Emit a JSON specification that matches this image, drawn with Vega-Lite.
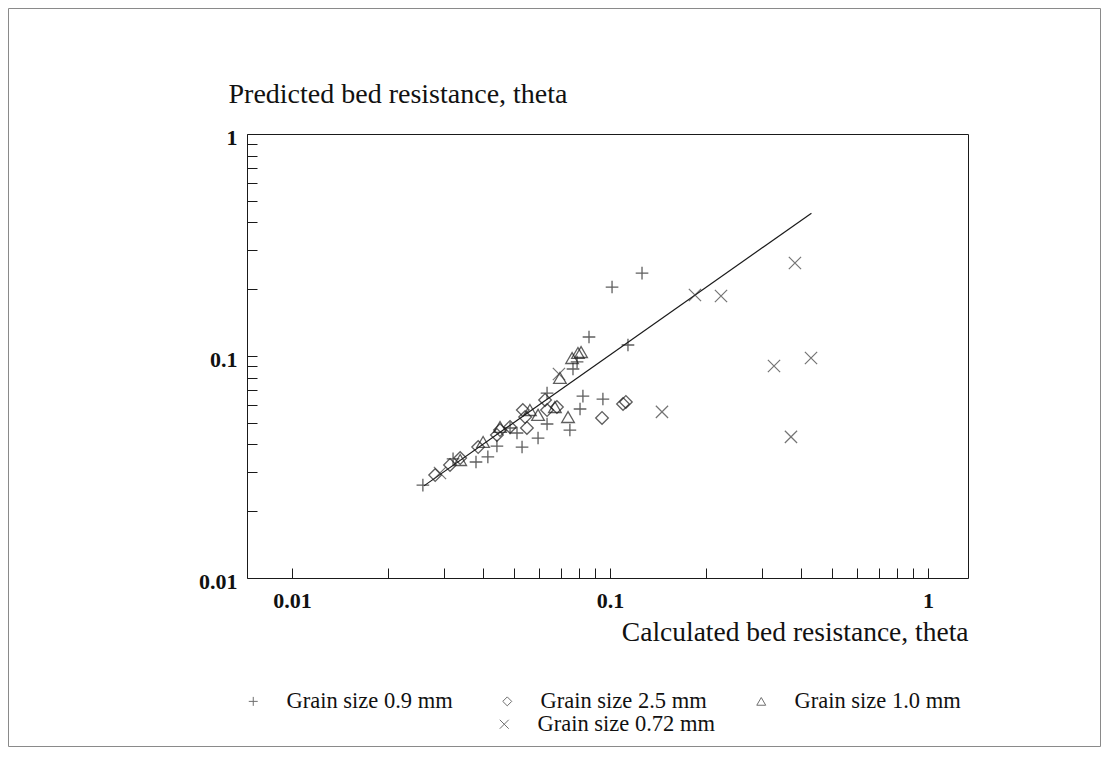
{
  "$schema": "https://vega.github.io/schema/vega-lite/v6.json",
  "width": 1092,
  "height": 738,
  "autosize": {"type": "none"},
  "padding": {"left": 8, "top": 8, "right": 9, "bottom": 20},
  "background": "white",
  "config": {
    "view": {"stroke": "#8a8a8a", "strokeWidth": 1},
    "font": "Liberation Serif",
    "axis": {
      "labelFont": "Liberation Serif",
      "titleFont": "Liberation Serif",
      "labelColor": "#111111",
      "titleColor": "#111111",
      "labelFontWeight": "bold",
      "titleFontWeight": "normal",
      "domainColor": "#1a1a1a",
      "tickColor": "#1a1a1a",
      "grid": false
    },
    "legend": {
      "labelFont": "Liberation Serif",
      "labelColor": "#111111",
      "labelFontSize": 22.5,
      "labelLimit": 0,
      "padding": 0
    }
  },
  "datasets": {
    "obs": [
      {"grain": "Grain size 0.9 mm", "calc": 0.0258, "pred": 0.0262},
      {"grain": "Grain size 0.9 mm", "calc": 0.0321, "pred": 0.0344},
      {"grain": "Grain size 0.9 mm", "calc": 0.0379, "pred": 0.0333},
      {"grain": "Grain size 0.9 mm", "calc": 0.0413, "pred": 0.0351},
      {"grain": "Grain size 0.9 mm", "calc": 0.0441, "pred": 0.0393},
      {"grain": "Grain size 0.9 mm", "calc": 0.0485, "pred": 0.0474},
      {"grain": "Grain size 0.9 mm", "calc": 0.0510, "pred": 0.0450},
      {"grain": "Grain size 0.9 mm", "calc": 0.0529, "pred": 0.0389},
      {"grain": "Grain size 0.9 mm", "calc": 0.0594, "pred": 0.0427},
      {"grain": "Grain size 0.9 mm", "calc": 0.0634, "pred": 0.0494},
      {"grain": "Grain size 0.9 mm", "calc": 0.0634, "pred": 0.0681},
      {"grain": "Grain size 0.9 mm", "calc": 0.0748, "pred": 0.0464},
      {"grain": "Grain size 0.9 mm", "calc": 0.0765, "pred": 0.0874},
      {"grain": "Grain size 0.9 mm", "calc": 0.0788, "pred": 0.0940},
      {"grain": "Grain size 0.9 mm", "calc": 0.0805, "pred": 0.0577},
      {"grain": "Grain size 0.9 mm", "calc": 0.0822, "pred": 0.0660},
      {"grain": "Grain size 0.9 mm", "calc": 0.0950, "pred": 0.0640},
      {"grain": "Grain size 0.9 mm", "calc": 0.0859, "pred": 0.1218},
      {"grain": "Grain size 0.9 mm", "calc": 0.1015, "pred": 0.2045},
      {"grain": "Grain size 0.9 mm", "calc": 0.1261, "pred": 0.2364},
      {"grain": "Grain size 0.9 mm", "calc": 0.1139, "pred": 0.1121},
      {"grain": "Grain size 2.5 mm", "calc": 0.0282, "pred": 0.0291},
      {"grain": "Grain size 2.5 mm", "calc": 0.0314, "pred": 0.0323},
      {"grain": "Grain size 2.5 mm", "calc": 0.0338, "pred": 0.0347},
      {"grain": "Grain size 2.5 mm", "calc": 0.0385, "pred": 0.0389},
      {"grain": "Grain size 2.5 mm", "calc": 0.0441, "pred": 0.0441},
      {"grain": "Grain size 2.5 mm", "calc": 0.0451, "pred": 0.0464},
      {"grain": "Grain size 2.5 mm", "calc": 0.0485, "pred": 0.0479},
      {"grain": "Grain size 2.5 mm", "calc": 0.0532, "pred": 0.0571},
      {"grain": "Grain size 2.5 mm", "calc": 0.0541, "pred": 0.0531},
      {"grain": "Grain size 2.5 mm", "calc": 0.0548, "pred": 0.0474},
      {"grain": "Grain size 2.5 mm", "calc": 0.0625, "pred": 0.0634},
      {"grain": "Grain size 2.5 mm", "calc": 0.0634, "pred": 0.0571},
      {"grain": "Grain size 2.5 mm", "calc": 0.0681, "pred": 0.0589},
      {"grain": "Grain size 2.5 mm", "calc": 0.0944, "pred": 0.0526},
      {"grain": "Grain size 2.5 mm", "calc": 0.1099, "pred": 0.0608},
      {"grain": "Grain size 2.5 mm", "calc": 0.1122, "pred": 0.0621},
      {"grain": "Grain size 1.0 mm", "calc": 0.0338, "pred": 0.0340},
      {"grain": "Grain size 1.0 mm", "calc": 0.0399, "pred": 0.0410},
      {"grain": "Grain size 1.0 mm", "calc": 0.0451, "pred": 0.0479},
      {"grain": "Grain size 1.0 mm", "calc": 0.0560, "pred": 0.0571},
      {"grain": "Grain size 1.0 mm", "calc": 0.0594, "pred": 0.0543},
      {"grain": "Grain size 1.0 mm", "calc": 0.0671, "pred": 0.0589},
      {"grain": "Grain size 1.0 mm", "calc": 0.0696, "pred": 0.0796},
      {"grain": "Grain size 1.0 mm", "calc": 0.0738, "pred": 0.0531},
      {"grain": "Grain size 1.0 mm", "calc": 0.0760, "pred": 0.0979},
      {"grain": "Grain size 1.0 mm", "calc": 0.0793, "pred": 0.1032},
      {"grain": "Grain size 1.0 mm", "calc": 0.0811, "pred": 0.1042},
      {"grain": "Grain size 0.72 mm", "calc": 0.0292, "pred": 0.0297},
      {"grain": "Grain size 0.72 mm", "calc": 0.0691, "pred": 0.0830},
      {"grain": "Grain size 0.72 mm", "calc": 0.1850, "pred": 0.1883},
      {"grain": "Grain size 0.72 mm", "calc": 0.2234, "pred": 0.1863},
      {"grain": "Grain size 0.72 mm", "calc": 0.3816, "pred": 0.2624},
      {"grain": "Grain size 0.72 mm", "calc": 0.3279, "pred": 0.0902},
      {"grain": "Grain size 0.72 mm", "calc": 0.4287, "pred": 0.0979},
      {"grain": "Grain size 0.72 mm", "calc": 0.1457, "pred": 0.0560},
      {"grain": "Grain size 0.72 mm", "calc": 0.3708, "pred": 0.0432}
    ],
    "fit": [
      {"calc": 0.026, "pred": 0.026},
      {"calc": 0.43, "pred": 0.44}
    ]
  },
  "layer": [
    {
      "data": {"name": "fit"},
      "mark": {"type": "line", "color": "#1a1a1a", "strokeWidth": 1.2},
      "encoding": {
        "x": {
          "field": "calc", "type": "quantitative",
          "scale": {"type": "log", "domain": [0.00722, 1.336], "range": [239, 960], "nice": false},
          "axis": {
            "orient": "bottom", "offset": -168,
            "values": [0.01, 0.02, 0.03, 0.04, 0.05, 0.06, 0.07, 0.08, 0.09, 0.1, 0.2, 0.3, 0.4, 0.5, 0.6, 0.7, 0.8, 0.9, 1],
            "format": "~g",
            "labelExpr": "datum.value == 0.01 || datum.value == 0.1 || datum.value == 1 ? datum.label : ''",
            "tickSize": -10, "labelPadding": 39, "labelBaseline": "alphabetic",
            "labelFontSize": 22, "labelFlush": false, "labelOverlap": false, "labelBound": false,
            "title": "Calculated bed resistance, theta", "titleFontSize": 27.5,
            "titleAlign": "right", "titleBaseline": "alphabetic", "titleX": 960, "titleY": 62
          }
        },
        "y": {
          "field": "pred", "type": "quantitative",
          "scale": {"type": "log", "domain": [0.01, 1], "range": [570, 126], "nice": false},
          "axis": {
            "orient": "left", "offset": -239,
            "values": [0.01, 0.02, 0.03, 0.04, 0.05, 0.06, 0.07, 0.08, 0.09, 0.1, 0.2, 0.3, 0.4, 0.5, 0.6, 0.7, 0.8, 0.9, 1],
            "format": "~g",
            "labelExpr": "datum.value == 0.01 || datum.value == 0.1 || datum.value == 1 ? datum.label : ''",
            "tickSize": -10, "labelPadding": 20, "labelBaseline": "middle", "labelOffset": 3,
            "labelFontSize": 22, "labelFlush": false, "labelOverlap": false, "labelBound": false,
            "title": "Predicted bed resistance, theta", "titleFontSize": 28, "titleAngle": 0,
            "titleAlign": "left", "titleBaseline": "alphabetic", "titleX": -19, "titleY": 94
          }
        }
      }
    },
    {
      "data": {"name": "obs"},
      "transform": [{"filter": "datum.grain != 'Grain size 0.72 mm'"}],
      "mark": {"type": "point", "filled": false, "color": "#1c1c1c", "strokeWidth": 1.3, "size": 160},
      "encoding": {
        "x": {
          "field": "calc", "type": "quantitative",
          "scale": {"type": "log", "domain": [0.00722, 1.336], "range": [239, 960], "nice": false},
          "axis": {"orient": "top", "offset": -126, "ticks": false, "labels": false, "title": null}
        },
        "y": {
          "field": "pred", "type": "quantitative",
          "scale": {"type": "log", "domain": [0.01, 1], "range": [570, 126], "nice": false},
          "axis": {"orient": "right", "offset": -132, "ticks": false, "labels": false, "title": null}
        },
        "shape": {
          "field": "grain", "type": "nominal",
          "scale": {
            "domain": ["Grain size 0.9 mm", "Grain size 2.5 mm", "Grain size 1.0 mm"],
            "range": ["M-1,0L1,0M0,-1L0,1", "diamond", "triangle-up"]
          },
          "legend": {
            "orient": "none", "direction": "horizontal", "legendX": 234, "legendY": 682,
            "title": null, "symbolSize": 80, "symbolStrokeWidth": 1, "symbolStrokeColor": "#333333",
            "labelOffset": 22, "columnPadding": 43
          }
        }
      }
    },
    {
      "data": {"name": "obs"},
      "transform": [{"filter": "datum.grain == 'Grain size 0.72 mm'"}],
      "mark": {"type": "point", "filled": false, "color": "#3a3a3a", "strokeWidth": 1.2, "size": 150},
      "encoding": {
        "x": {
          "field": "calc", "type": "quantitative",
          "scale": {"type": "log", "domain": [0.00722, 1.336], "range": [239, 960], "nice": false},
          "axis": null
        },
        "y": {
          "field": "pred", "type": "quantitative",
          "scale": {"type": "log", "domain": [0.01, 1], "range": [570, 126], "nice": false},
          "axis": null
        },
        "shape": {
          "field": "grain", "type": "nominal",
          "scale": {"domain": ["Grain size 0.72 mm"], "range": ["M-1,-1L1,1M-1,1L1,-1"]},
          "legend": {
            "orient": "none", "direction": "horizontal", "legendX": 485, "legendY": 705,
            "title": null, "symbolSize": 80, "symbolStrokeWidth": 1, "symbolStrokeColor": "#333333",
            "labelOffset": 22
          }
        }
      }
    }
  ],
  "resolve": {
    "scale": {"shape": "independent"},
    "axis": {"x": "independent", "y": "independent"}
  }
}
